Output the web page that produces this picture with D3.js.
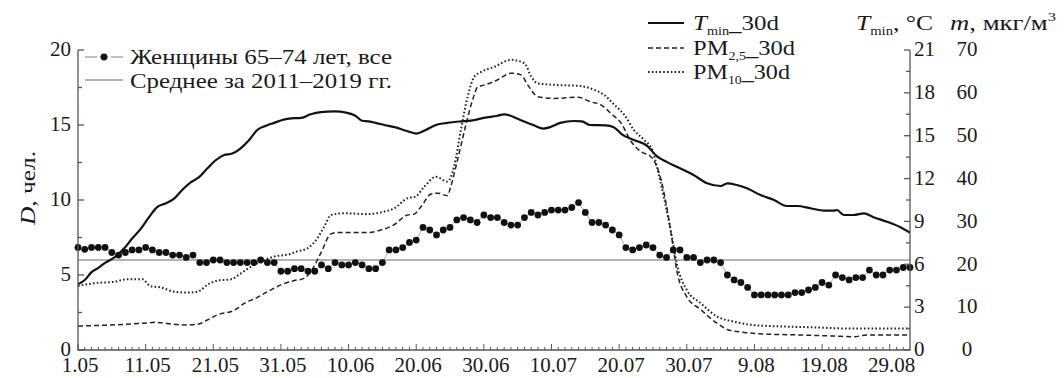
<!DOCTYPE html>
<html><head><meta charset="utf-8">
<script src="https://cdn.jsdelivr.net/npm/d3@7"></script>
<style>
body{margin:0;background:#fff;}
svg text{font-family:"Liberation Serif","DejaVu Serif","Times New Roman",serif;fill:#1a1a1a;}
</style>
</head><body>
<svg id="c" width="1064" height="378" font-family="Liberation Serif, DejaVu Serif, serif"></svg>
<script>
// ---- data ----
const dateLabels = ["1.05","11.05","21.05","31.05","10.06","20.06","30.06","10.07","20.07","30.07","9.08","19.08","29.08"];
const tickDays = [0,10,20,30,40,50,60,70,80,90,100,110,120];
const leftTicks = [0,5,10,15,20];
const tTicks = [0,3,6,9,12,15,18,21];
const mTicks = [0,10,20,30,40,50,60,70];
const meanD = 6;
// Женщины 65–74 лет, все (one value per day, 1.05 ...)
const deaths = [6.84,6.71,6.84,6.84,6.84,6.5,6.33,6.5,6.67,6.67,
  6.84,6.67,6.5,6.5,6.33,6.33,6.17,6.33,5.83,5.83,
  6.0,6.0,5.83,5.83,5.83,5.83,5.83,6.0,5.83,5.83,
  5.25,5.25,5.42,5.42,5.25,5.25,5.67,5.42,5.83,5.67,
  5.67,5.83,5.67,5.42,5.42,5.83,6.67,6.67,6.83,7.17,
  7.33,8.17,8.0,7.67,8.0,8.17,8.67,8.83,8.67,8.5,
  9.0,8.83,8.83,8.5,8.33,8.33,8.83,9.17,9.0,9.17,
  9.33,9.33,9.33,9.5,9.83,9.17,8.5,8.5,8.33,8.0,
  7.67,6.83,6.67,6.83,7.0,6.83,6.33,6.17,6.67,6.67,
  6.17,6.17,5.83,6.0,6.0,5.83,5.0,4.67,4.5,4.17,
  3.67,3.67,3.67,3.67,3.67,3.67,3.83,3.83,4.0,4.17,
  4.5,4.33,5.0,4.83,4.67,4.83,4.83,5.33,5.0,5.0,
  5.33,5.33,5.5,5.5];
// T_min 30d (°C)
const tminDays = [0,1,2,3,4,5.6,6.8,8,9.3,10.5,11.7,13,14.2,15.4,16.7,17.9,19.1,20.4,21.6,22.8,24,25.3,26.5,27.8,29,30.2,31.2,33,34.4,35.9,37.9,39.8,41,42,43,44,45.3,46.8,48.5,50,51.4,52.9,54.6,56.6,58.1,60,62,63,65.4,67.3,68.8,69.8,71.3,73.3,74.5,75.7,78,79.2,80.4,82.2,84.1,85.6,87.1,89,91,93,95,96,97.4,98.9,100.9,102.9,104.8,106.3,108.3,110.3,111.7,112.2,113.2,114.7,116.2,117.6,119.6,121.6,123];
const tminVals = [4.6,4.9,5.45,5.75,6.1,6.55,7.1,7.8,8.5,9.3,10.0,10.27,10.6,11.2,11.75,12.1,12.7,13.3,13.65,13.75,14.1,14.7,15.4,15.7,15.9,16.1,16.2,16.25,16.5,16.65,16.7,16.6,16.4,16.05,16.0,15.9,15.75,15.6,15.35,15.15,15.4,15.75,15.9,16.0,16.05,16.25,16.4,16.5,16.1,15.75,15.5,15.6,15.9,16.03,16.0,15.75,15.72,15.6,15.1,14.7,14.3,13.55,13.15,12.72,12.25,11.67,11.48,11.67,11.55,11.32,10.85,10.5,10.08,10.08,9.92,9.75,9.75,9.8,9.45,9.45,9.57,9.29,8.98,8.59,8.21];
// PM2,5 30d (мкг/м3)
const pm25Days = [0,4.3,9.3,11.5,14.2,15.7,17.7,19.1,20.6,23,24.6,26.3,28,30,32,33.4,34.5,35.9,37.4,38.4,42.8,44.8,46.7,48.7,49.7,50.7,52.2,53.2,54.6,55.1,56.1,57.4,58.4,59.1,60,62,64,65.5,66.5,68,70.4,73.9,75.8,77.3,78.8,80.3,81.8,83.2,84.7,86.2,87.2,88.2,88.5,90,92,94.5,96,98.5,102,106.9,111.8,114.7,116.7,123];
const pm25Vals = [5.6,5.8,6.2,6.45,6.0,5.85,6.0,7.0,8.2,9.2,10.9,12.1,13.6,15.2,16.2,16.7,18.5,22.6,27.1,27.4,27.4,28,29.2,31.5,31.7,33.4,36.4,36.6,36.0,38.1,44.3,52.9,58.7,61.4,61.8,63,64.6,64.2,61.8,59.1,58.7,59,57.9,57.2,55.2,52.9,48.6,46.3,45.1,39.7,31.9,21.8,18.7,12.4,9.5,6.2,4.8,4.1,3.7,3.5,3.25,3.1,3.5,3.5];
// PM10 30d (мкг/м3)
const pm10Days = [0,2.4,5.3,7.3,9.5,10.7,12.2,14.2,16.2,17.7,19.1,20.6,22.6,24.1,25.5,27,29,31.4,32.4,33.9,35.4,36.4,37.4,39.3,42.8,45.3,46.7,48.7,49.9,51.2,52.9,54.6,55.6,56.6,57.6,58.6,59.6,61.6,64,66,67,68,71.4,74.3,76.3,77.8,79.3,80.8,82.2,83.7,84.9,85.7,86.7,87.8,88.5,90,92,94.5,97,100,104,108.3,114.7,123];
const pm10Vals = [14.9,15.6,15.9,16.5,16.5,14.9,14.6,13.6,13.4,13.6,15.2,16.2,16.5,17.9,19.4,20.6,21.8,22.4,23,23.7,26.1,28.8,31.5,31.9,31.7,32.3,33,35.4,35.8,38.1,40.4,39.3,42.8,51.3,59.1,63.8,64.9,66.1,67.7,66.9,63.8,62.2,61.8,61.6,60.7,59.5,57.2,54.8,51.3,49,46.7,42,35,26.4,20.3,14.0,11,7.8,6.6,5.8,5.5,5.3,5.0,5.0];

// ---- chart ----
const svg = d3.select("#c");
const FF = "Liberation Serif, DejaVu Serif, serif";
const x = d3.scaleLinear().domain([0,123]).range([78,910]);
const yD = d3.scaleLinear().domain([0,20]).range([350,50]);
const yT = d3.scaleLinear().domain([0,21]).range([350,50]);
const yM = d3.scaleLinear().domain([0,70]).range([350,50]);
const axisCol = "#555";

svg.append("line").attr("x1",x(0)).attr("x2",x(123)).attr("y1",yD(meanD)).attr("y2",yD(meanD))
  .attr("stroke","#9a9a9a").attr("stroke-width",1.5);

const lineOf = (days, vals, ys) => d3.line().x((d,i)=>x(days[i])).y(d=>ys(d)).curve(d3.curveMonotoneX)(vals);
svg.append("path").attr("d",lineOf(pm10Days,pm10Vals,yM)).attr("fill","none")
  .attr("stroke","#222").attr("stroke-width",2).attr("stroke-dasharray","1.6,2.2");
svg.append("path").attr("d",lineOf(pm25Days,pm25Vals,yM)).attr("fill","none")
  .attr("stroke","#222").attr("stroke-width",1.5).attr("stroke-dasharray","5,3");
svg.append("path").attr("d",lineOf(tminDays,tminVals,yT)).attr("fill","none")
  .attr("stroke","#111").attr("stroke-width",2.2);

svg.append("path").attr("d",d3.line().x((d,i)=>x(i)).y(d=>yD(d))(deaths))
  .attr("fill","none").attr("stroke","#aaa").attr("stroke-width",1);
svg.append("g").selectAll("circle").data(deaths).join("circle")
  .attr("cx",(d,i)=>x(i)).attr("cy",d=>yD(d)).attr("r",3.4).attr("fill","#111");

const ax = svg.append("g").attr("stroke",axisCol).attr("stroke-width",1.3).attr("fill","none");
ax.append("path").attr("d",`M${x(0)},${yD(20)}V${yD(0)}H${x(123)}V${yT(21)}`);
d3.range(0,20.01,2.5).forEach(v=>{
  const L = (v%5===0)?6:4;
  ax.append("line").attr("x1",x(0)).attr("x2",x(0)+L).attr("y1",yD(v)).attr("y2",yD(v));
});
d3.range(0,21.01,1.5).forEach(v=>{
  const L = (Math.round(v*10)%30===0)?6:4;
  ax.append("line").attr("x1",x(123)).attr("x2",x(123)-L).attr("y1",yT(v)).attr("y2",yT(v));
});
d3.range(0,123).forEach(d=>{
  const L = (d%10===0)?6:3;
  ax.append("line").attr("x1",x(d)).attr("x2",x(d)).attr("y1",yD(0)).attr("y2",yD(0)-L).attr("stroke-width",1);
});

const fs = 21;
const T = sel => sel.attr("font-family",FF).style("font-size",fs+"px");
const stretch = (sel,len) => sel.attr("textLength",len).attr("lengthAdjust","spacingAndGlyphs");
svg.append("g").selectAll("text").data(leftTicks).join("text").call(T)
  .attr("x",71).attr("y",d=>yD(d)).attr("dy","0.3em").attr("text-anchor","end").text(d=>d);
svg.append("g").selectAll("text").data(tTicks).join("text").call(T)
  .attr("x",914).attr("y",d=>yT(d)).attr("dy","0.3em").attr("text-anchor","start").text(d=>d);
svg.append("g").selectAll("text").data(mTicks).join("text").call(T)
  .attr("x",967).attr("y",d=>yM(d)).attr("dy","0.3em").attr("text-anchor","middle").text(d=>d);
svg.append("g").selectAll("text").data(tickDays).join("text").call(T)
  .attr("x",(d,i)=>x(d)+2).attr("y",372).attr("text-anchor","middle").text((d,i)=>dateLabels[i]);

const yt = svg.append("text").call(T).attr("transform","translate(35,188) rotate(-90)")
  .attr("text-anchor","middle").call(stretch,74);
yt.append("tspan").style("font-style","italic").text("D");
yt.append("tspan").text(", чел.");

const t1 = svg.append("text").call(T).attr("x",856).attr("y",30).call(stretch,77);
t1.append("tspan").style("font-style","italic").text("T");
t1.append("tspan").style("font-size","12px").attr("dy",5).text("min");
t1.append("tspan").attr("dy",-5).text(", °C");
const t2 = svg.append("text").call(T).attr("x",950).attr("y",30).call(stretch,106);
t2.append("tspan").style("font-style","italic").text("m");
t2.append("tspan").text(", мкг/м");
t2.append("tspan").style("font-size","13px").attr("dy",-9).text("3");

const lg = svg.append("g");
lg.append("line").attr("x1",85).attr("x2",123).attr("y1",57).attr("y2",57).attr("stroke","#aaa").attr("stroke-width",1.5);
lg.append("rect").attr("x",97).attr("y",55).attr("width",3).attr("height",4).attr("fill","#fff");
lg.append("rect").attr("x",108).attr("y",55).attr("width",3).attr("height",4).attr("fill","#fff");
lg.append("circle").attr("cx",104).attr("cy",57).attr("r",3.4).attr("fill","#111");
lg.append("text").call(T).attr("x",130).attr("y",64).call(stretch,262).text("Женщины 65–74 лет, все");
lg.append("line").attr("x1",85).attr("x2",123).attr("y1",80).attr("y2",80).attr("stroke","#9a9a9a").attr("stroke-width",1.5);
lg.append("text").call(T).attr("x",130).attr("y",88).call(stretch,262).text("Среднее за 2011–2019 гг.");

const rl = svg.append("g");
rl.append("line").attr("x1",648).attr("x2",684).attr("y1",23).attr("y2",23).attr("stroke","#111").attr("stroke-width",2.2);
rl.append("line").attr("x1",648).attr("x2",684).attr("y1",48).attr("y2",48).attr("stroke","#222").attr("stroke-width",1.5).attr("stroke-dasharray","5,3");
rl.append("line").attr("x1",648).attr("x2",684).attr("y1",72).attr("y2",72).attr("stroke","#222").attr("stroke-width",2).attr("stroke-dasharray","1.6,2.2");
function legText(y, main, sub, italic, len){
  const t = rl.append("text").call(T).attr("x",693).attr("y",y).call(stretch,len);
  t.append("tspan").style("font-style",italic?"italic":"normal").text(main);
  t.append("tspan").style("font-size","12px").attr("dy",5).text(sub);
  t.append("tspan").attr("dy",-5).text("_30d");
}
legText(30,"T","min",true,86);
legText(55,"PM","2,5",false,102);
legText(79,"PM","10",false,97);
</script>
</body></html>
